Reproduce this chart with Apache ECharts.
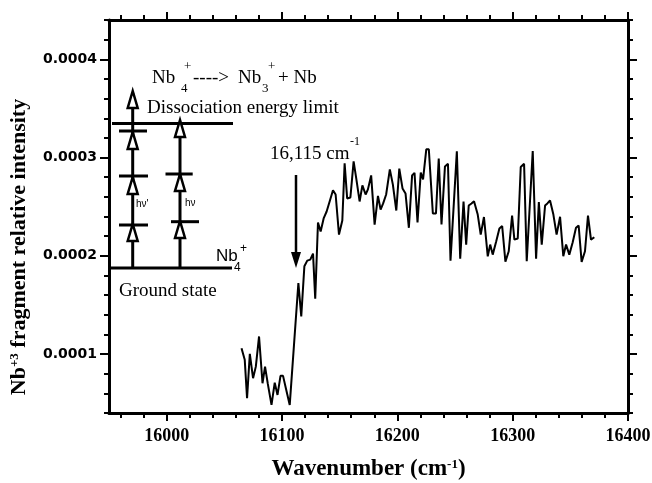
<!DOCTYPE html>
<html>
<head>
<meta charset="utf-8">
<script src="https://cdn.jsdelivr.net/npm/echarts@6/dist/echarts.min.js"></script>
<style>
  html, body { margin: 0; padding: 0; background: #fff; }
  #chart { width: 652px; height: 483px; }
</style>
</head>
<body>
<div id="chart"></div>
<script>
// wavenumber (cm-1) and Nb3+ fragment relative intensity
const wavenumber = [
  16064.9, 16067.7, 16069.7, 16072.1, 16074.9, 16077.3, 16080.1, 16083.1, 16085.3, 16087.7,
  16090.9, 16093.7, 16096.1, 16098.7, 16100.9, 16103.7, 16106.7, 16110.4, 16114.2, 16116.7,
  16119.4, 16121.9, 16124.5, 16126.9, 16128.8, 16131.2, 16133.5, 16136.1, 16138.7, 16141.3,
  16144.2, 16146.5, 16149.4, 16152.3, 16154.3, 16156.5, 16159.3, 16162.1, 16164.5, 16167.3,
  16169.7, 16172.5, 16174.5, 16177.3, 16180.3, 16183.2, 16185.5, 16187.7, 16190.3, 16193.5,
  16196.1, 16199.1, 16201.7, 16204.5, 16207.1, 16210.0, 16212.8, 16214.9, 16217.5, 16220.3,
  16222.3, 16225.1, 16227.3, 16230.8, 16233.5, 16235.9, 16238.3, 16241.3, 16243.9, 16246.1,
  16251.6, 16254.5, 16257.4, 16259.7, 16261.9, 16264.3, 16266.5, 16269.7, 16272.3, 16275.1,
  16278.4, 16280.5, 16282.7, 16285.7, 16288.5, 16290.9, 16293.7, 16296.6, 16299.5, 16301.5,
  16304.4, 16307.0, 16309.9, 16312.2, 16317.4, 16320.3, 16322.7, 16325.2, 16328.1, 16330.1,
  16332.4, 16335.3, 16338.1, 16341.1, 16343.9, 16346.3, 16349.1, 16352.0, 16354.9, 16357.2,
  16359.8, 16362.7, 16365.3, 16367.9, 16370.8
];
const intensity = [
  1.060e-4, 0.941e-4, 0.550e-4, 1.002e-4, 0.754e-4, 0.872e-4, 1.179e-4, 0.703e-4, 0.872e-4, 0.696e-4,
  0.482e-4, 0.709e-4, 0.584e-4, 0.778e-4, 0.778e-4, 0.635e-4, 0.482e-4, 1.094e-4, 1.723e-4, 1.383e-4,
  1.893e-4, 1.951e-4, 1.961e-4, 2.022e-4, 1.563e-4, 2.339e-4, 2.247e-4, 2.380e-4, 2.451e-4, 2.553e-4,
  2.668e-4, 2.624e-4, 2.216e-4, 2.359e-4, 2.941e-4, 2.584e-4, 2.594e-4, 2.961e-4, 2.778e-4, 2.553e-4,
  2.716e-4, 2.624e-4, 2.676e-4, 2.818e-4, 2.318e-4, 2.609e-4, 2.471e-4, 2.533e-4, 2.624e-4, 2.880e-4,
  2.727e-4, 2.461e-4, 2.887e-4, 2.686e-4, 2.635e-4, 2.285e-4, 2.818e-4, 2.844e-4, 2.339e-4, 2.846e-4,
  2.778e-4, 3.084e-4, 3.084e-4, 2.431e-4, 2.431e-4, 2.989e-4, 2.318e-4, 2.910e-4, 2.936e-4, 1.951e-4,
  3.063e-4, 1.971e-4, 2.553e-4, 2.114e-4, 2.512e-4, 2.533e-4, 2.556e-4, 2.420e-4, 2.216e-4, 2.395e-4,
  1.995e-4, 2.114e-4, 2.012e-4, 2.145e-4, 2.278e-4, 2.303e-4, 1.941e-4, 2.046e-4, 2.410e-4, 2.165e-4,
  2.176e-4, 2.903e-4, 2.936e-4, 1.944e-4, 3.066e-4, 1.971e-4, 2.546e-4, 2.114e-4, 2.512e-4, 2.533e-4,
  2.563e-4, 2.420e-4, 2.216e-4, 2.397e-4, 1.995e-4, 2.114e-4, 2.012e-4, 2.135e-4, 2.285e-4, 2.308e-4,
  1.938e-4, 2.046e-4, 2.410e-4, 2.165e-4, 2.189e-4
];

const xMajorTicks = [16000, 16100, 16200, 16300, 16400];
const xMinorTicks = [15960, 15980, 16020, 16040, 16060, 16080, 16120, 16140, 16160, 16180,
  16220, 16240, 16260, 16280, 16320, 16340, 16360, 16380];
const yMajorTicks = [0.0001, 0.0002, 0.0003, 0.0004];
const yMinorTicks = [0.00004, 0.00006, 0.00008, 0.00012, 0.00014, 0.00016, 0.00018, 0.00022,
  0.00024, 0.00026, 0.00028, 0.00032, 0.00034, 0.00036, 0.00038, 0.00042, 0.00044];

const chart = echarts.init(document.getElementById('chart'));

const serif = '"Liberation Serif", "Times New Roman", serif';
const sans = '"Liberation Sans", Arial, sans-serif';
const lineStyle = { color: '#000', width: 3 };

function xAxisDef(pos, ticks, len, labels) {
  return {
    type: 'value', position: pos, min: 15950, max: 16400,
    axisLine: { show: len > 6, lineStyle: lineStyle },
    splitLine: { show: false },
    axisTick: { show: true, customValues: ticks, length: len, lineStyle: { color: '#000', width: 2 } },
    axisLabel: labels ? {
      show: true, customValues: xMajorTicks, margin: 14,
      formatter: v => String(v),
      fontFamily: serif, fontWeight: 'bold', fontSize: 18, color: '#000'
    } : { show: false }
  };
}
function yAxisDef(pos, ticks, len, labels) {
  return {
    type: 'value', position: pos, min: 0.00004, max: 0.00044,
    axisLine: { show: len > 6, lineStyle: lineStyle },
    splitLine: { show: false },
    axisTick: { show: true, customValues: ticks, length: len, lineStyle: { color: '#000', width: 2 } },
    axisLabel: labels ? {
      show: true, customValues: yMajorTicks, margin: 12,
      formatter: v => v.toFixed(4),
      fontFamily: '"DejaVu Sans", sans-serif', fontWeight: 'bold', fontSize: 14, color: '#000'
    } : { show: false }
  };
}

function txt(x, y, s, size, font, align) {
  return {
    type: 'text', x: x, y: y, z: 100,
    style: { text: s, fontSize: size, fontFamily: font, fill: '#000',
      textAlign: align || 'left', textVerticalAlign: 'middle' }
  };
}
function seg(x1, y1, x2, y2, w) {
  return { type: 'line', z: 100, shape: { x1: x1, y1: y1, x2: x2, y2: y2 },
    style: { stroke: '#000', lineWidth: w || 3 } };
}
function head(x, tip) {
  return { type: 'polygon', z: 101,
    shape: { points: [[x, tip], [x - 5, tip + 17], [x + 5, tip + 17]] },
    style: { fill: '#fff', stroke: '#000', lineWidth: 2.5 } };
}

const diagram = [
  // level lines
  seg(112, 123.5, 233, 123.5),
  seg(110, 268, 232, 268),
  // left excitation ladder
  seg(132.7, 268, 132.7, 93),
  seg(119, 131, 147, 131), seg(119, 176, 148, 176), seg(119, 225, 148, 225),
  head(132.7, 91), head(132.7, 132), head(132.7, 177), head(132.7, 224),
  // right excitation ladder
  seg(180, 268, 180, 122),
  seg(165.5, 174, 192.7, 174), seg(171, 221.7, 199, 221.7),
  head(180, 120), head(180, 174), head(180, 221),
  txt(136, 204, 'hν\'', 10, sans), txt(185, 203, 'hν', 10, sans),
  // dissociation reaction
  txt(152, 78, 'Nb', 19, serif), txt(181, 89, '4', 13, serif), txt(184, 67, '+', 13, serif),
  txt(193, 78, '---->', 19, serif), txt(238, 78, 'Nb', 19, serif),
  txt(262, 89, '3', 13, serif), txt(268, 67, '+', 13, serif), txt(278, 78, '+ Nb', 19, serif),
  txt(147, 108, 'Dissociation energy limit', 19, serif),
  txt(119, 291, 'Ground state', 19, serif),
  txt(216, 256, 'Nb', 17, sans), txt(234, 268, '4', 12, sans), txt(240, 249, '+', 12, sans),
  // threshold marker
  txt(270, 154, '16,115 cm', 19, serif), txt(350, 142, '-1', 12, serif),
  seg(296, 175, 296, 256, 2.5),
  { type: 'polygon', z: 101, shape: { points: [[291, 252], [301, 252], [296, 268]] },
    style: { fill: '#000' } },
  // y axis title
  {
    type: 'text', x: 19, y: 247, rotation: Math.PI / 2, z: 100,
    style: {
      text: '{b|Nb}{s|+3}{b| fragment relative intensity}',
      textAlign: 'center', textVerticalAlign: 'middle',
      rich: {
        b: { fontFamily: serif, fontWeight: 'bold', fontSize: 22, fill: '#000', verticalAlign: 'bottom' },
        s: { fontFamily: serif, fontWeight: 'bold', fontSize: 13, fill: '#000', verticalAlign: 'bottom', padding: [0, 0, 9, 0] }
      }
    }
  }
];

const option = {
  animation: false,
  backgroundColor: '#fff',
  grid: { left: 109, right: 24, top: 20, bottom: 70, outerBoundsMode: 'none' },
  xAxis: [
    Object.assign(xAxisDef('bottom', xMajorTicks, 8, true), {
      name: '{b|Wavenumber (cm}{s|-1}{b|)}', nameLocation: 'middle', nameGap: 45,
      nameTextStyle: {
        rich: {
          b: { fontFamily: serif, fontWeight: 'bold', fontSize: 23, color: '#000', verticalAlign: 'bottom' },
          s: { fontFamily: serif, fontWeight: 'bold', fontSize: 13, color: '#000', verticalAlign: 'bottom', padding: [0, 0, 10, 0] }
        }
      }
    }),
    xAxisDef('bottom', xMinorTicks, 5, false),
    xAxisDef('top', xMajorTicks, 8, false),
    xAxisDef('top', xMinorTicks, 5, false)
  ],
  yAxis: [
    yAxisDef('left', yMajorTicks, 9, true),
    yAxisDef('left', yMinorTicks, 5, false),
    yAxisDef('right', yMajorTicks, 9, false),
    yAxisDef('right', yMinorTicks, 5, false)
  ],
  series: [{
    type: 'line',
    xAxisIndex: 0, yAxisIndex: 0,
    data: wavenumber.map((w, i) => [w, intensity[i]]),
    showSymbol: false,
    lineStyle: { color: '#000', width: 2 },
    z: 10
  }],
  graphic: diagram
};
chart.setOption(option);
</script>
</body>
</html>
